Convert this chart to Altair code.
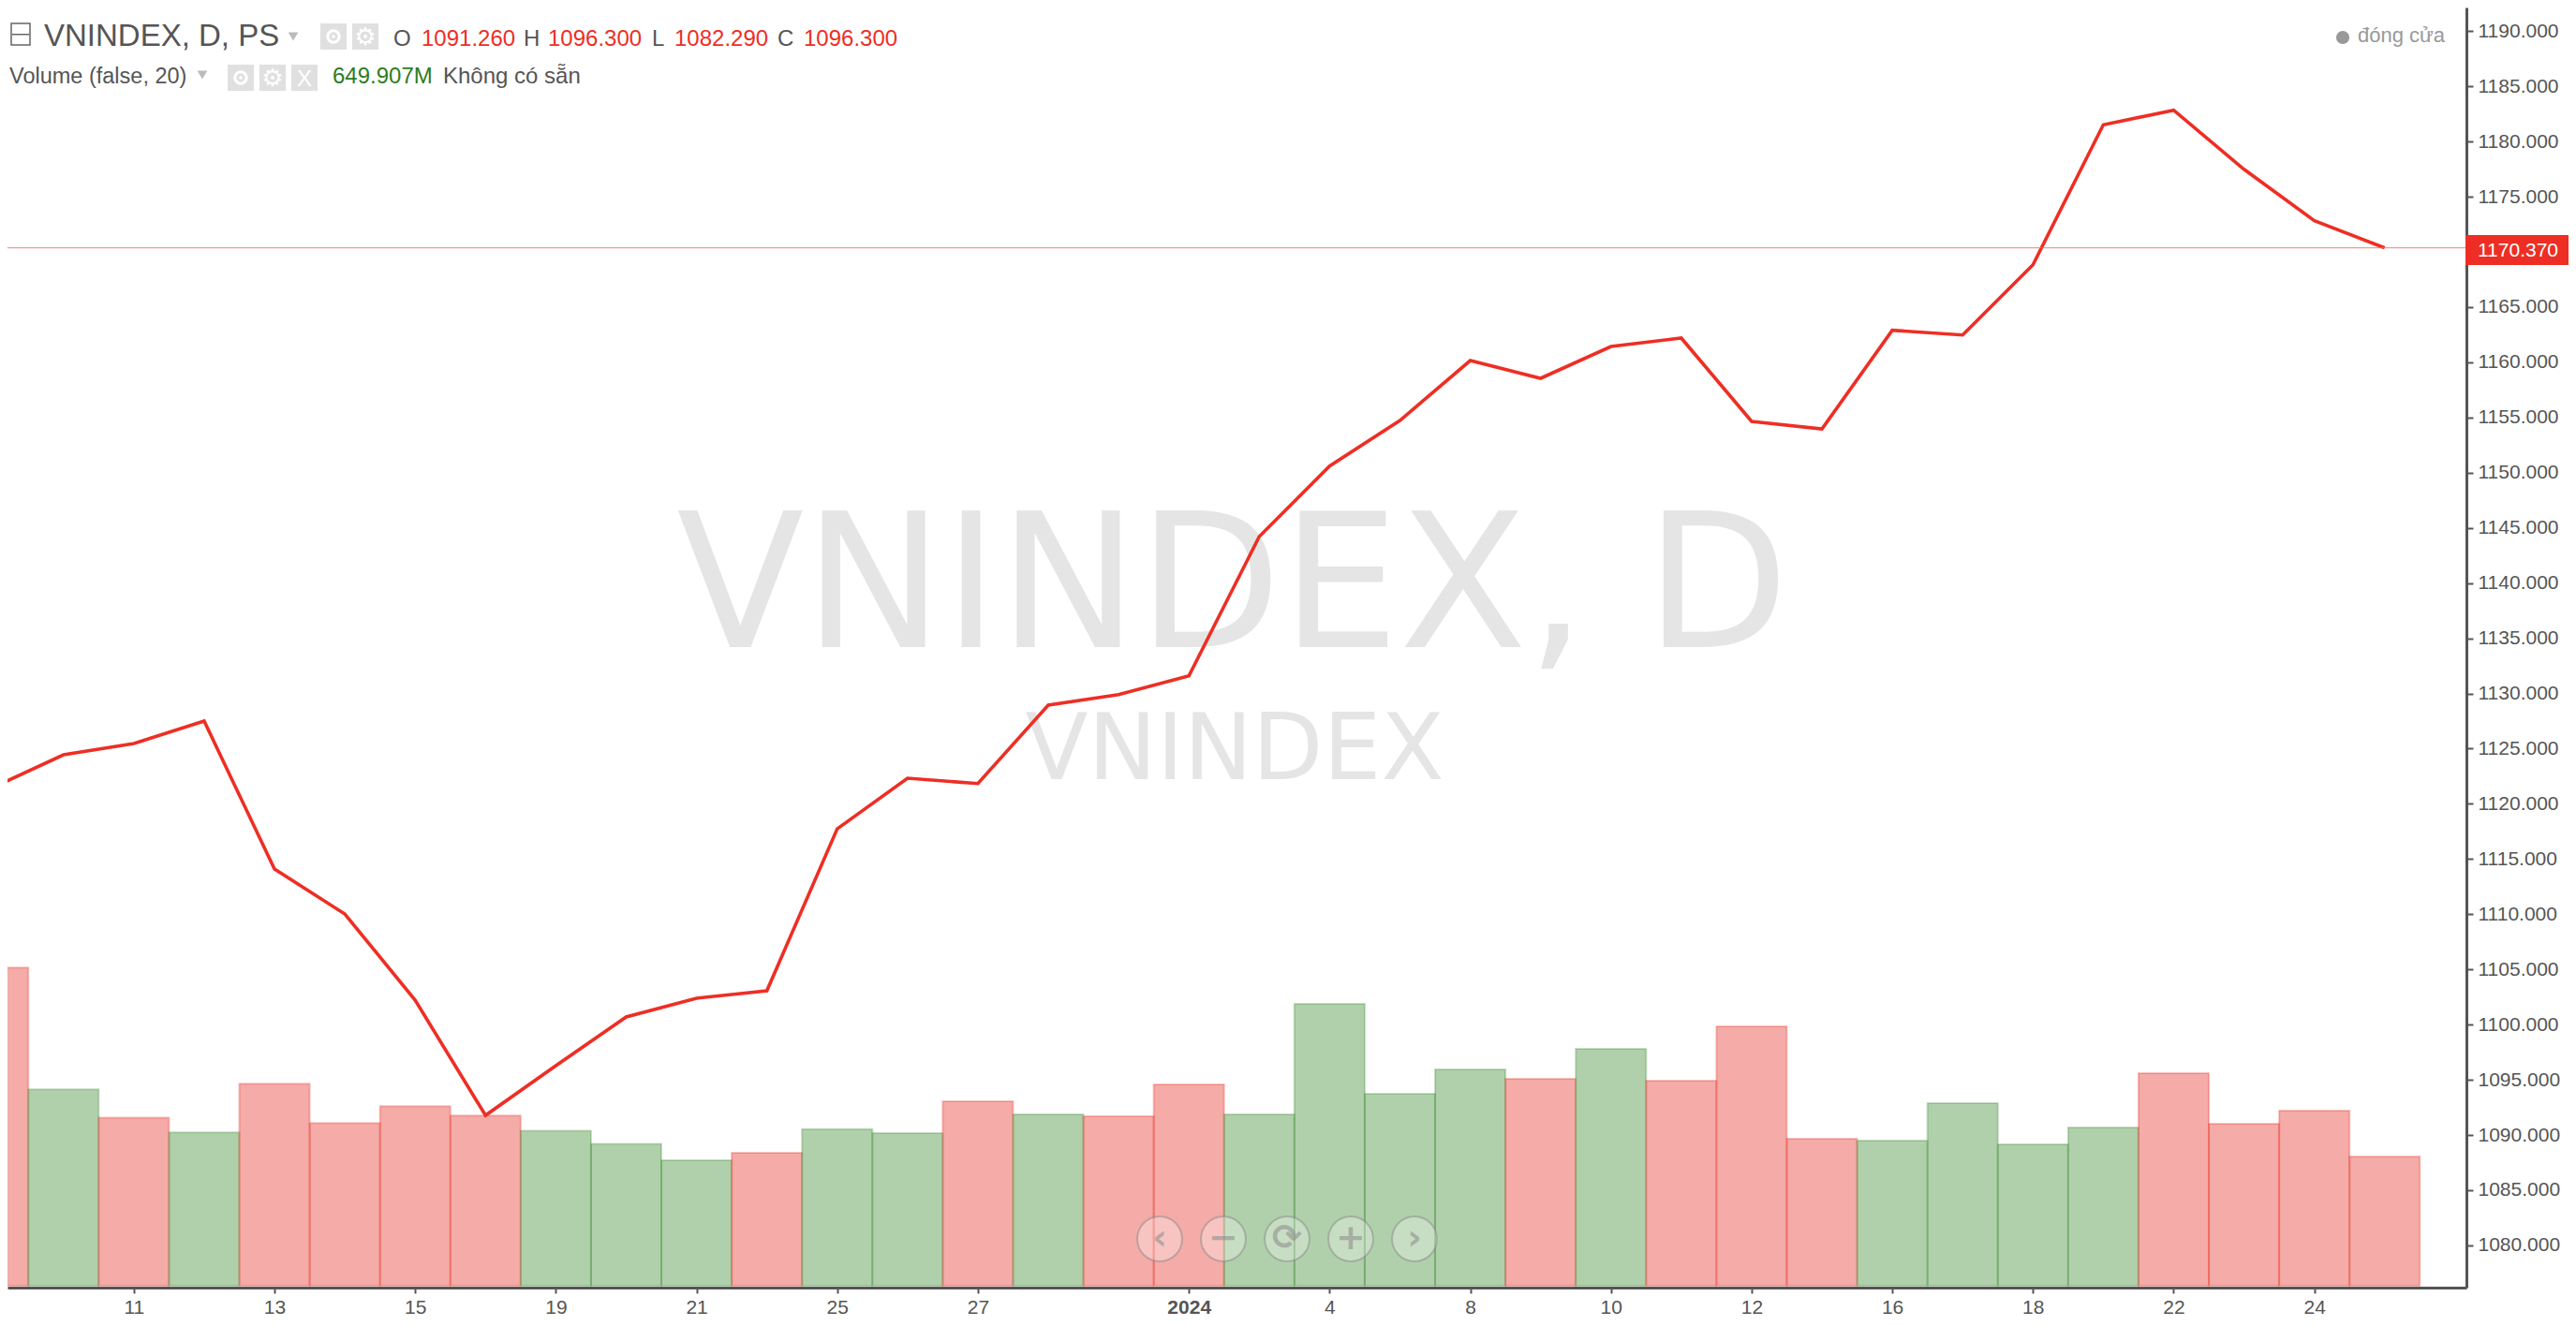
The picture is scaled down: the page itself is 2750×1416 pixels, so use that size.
import altair as alt
import pandas as pd

# ---- data ----
dates = ["12-07","12-08","12-11","12-12","12-13","12-14","12-15","12-18","12-19","12-20","12-21","12-22",
         "12-25","12-26","12-27","12-28","12-29","01-02","01-03","01-04","01-05","01-08","01-09","01-10",
         "01-11","01-12","01-15","01-16","01-17","01-18","01-19","01-22","01-23","01-24","01-25"]
close = [1121.48,1124.44,1125.46,1127.50,1114.09,1110.02,1102.22,1091.78,1096.28,1100.69,1102.39,1103.07,
         1117.74,1122.32,1121.84,1128.94,1129.90,1131.60,1144.21,1150.60,1154.73,1160.16,1158.55,1161.43,
         1162.20,1154.65,1153.97,1162.90,1162.48,1168.84,1181.52,1182.84,1177.49,1172.83,1170.37]
volume = [1600,988,846,771,1016,818,903,856,780,714,631,669,788,768,928,862,853,1013,862,1418,966,1088,
          1041,1192,1031,1305,739,730,918,711,796,1069,815,881,650]
side = ["r","g","r","g","r","r","r","r","g","g","g","r","g","g","r","g","r","r","g","g","g","g","r","g",
        "r","r","r","g","g","g","g","r","r","r","r"]
tick_idx = [2,4,6,8,10,12,14,17,19,21,23,25,27,29,31,33]
tick_labels = ["11","13","15","19","21","25","27","2024","4","8","10","12","16","18","22","24"]
y_ticks = list(range(1080, 1195, 5))
last_close = 1170.37

FONT = "Liberation Sans"
RED = "#ee2e24"
BAR_RED = "#e62e24"
BAR_GREEN = "#39892d"
GREY = "#555555"

df = pd.DataFrame({"date": dates, "close": close, "volume": volume, "side": side})
df["idx"] = range(len(df))
df["left"] = df["idx"] - 0.5
df["right"] = df["idx"] + 0.5
df["zero"] = 0

x_scale = alt.Scale(domain=[0.204, 35.162], nice=False, zero=False)
price_scale = alt.Scale(domain=[1076.174, 1192.146], nice=False, zero=False)
vol_scale = alt.Scale(domain=[-9.42, 6429], nice=False, zero=False)
one = alt.Data(values=[{"a": 1}])
OX, OY = 8, 8


def text(s, px, py, size=24, color=GREY, align="left", font=FONT, weight="normal"):
    return alt.Chart(one).mark_text(text=s, fontSize=size, color=color, align=align, baseline="alphabetic",
                                    font=font, fontWeight=weight).encode(
        x=alt.value(px - OX), y=alt.value(py - OY))


def box(x0, y0, x1, y1, fill="#e0e0e0", stroke=None, sw=0, opacity=1):
    kw = {"fill": fill, "opacity": opacity}
    if stroke:
        kw.update(stroke=stroke, strokeWidth=sw)
    return alt.Chart(one).mark_rect(**kw).encode(
        x=alt.value(x0 - OX), x2=alt.value(x1 - OX), y=alt.value(y0 - OY), y2=alt.value(y1 - OY))


def dot(px, py, r, fill=None, stroke=None, sw=0, shape="circle", fo=1, so=1):
    kw = dict(shape=shape, filled=False, opacity=1, fill=fill or "transparent", fillOpacity=fo,
              stroke=stroke or "transparent", strokeWidth=sw, strokeOpacity=so)
    return alt.Chart(one).mark_point(**kw).encode(
        x=alt.value(px - OX), y=alt.value(py - OY), size=alt.value(3.1416 * r * r))


x_axis = alt.Axis(values=tick_idx, title=None, grid=False, labelFontSize=21, labelColor=GREY, labelFont=FONT,
                  labelExpr="%s[indexof(%s, datum.value)]" % (tick_labels, tick_idx),
                  labelFontWeight={"condition": {"test": "datum.value == 17", "value": "bold"}, "value": "normal"},
                  labelOverlap=False, labelFlush=False, tickColor=GREY, tickSize=6, tickWidth=2,
                  domainColor=GREY, domainWidth=3, labelPadding=4)
y_axis = alt.Axis(orient="right", values=y_ticks, format=".3f", title=None, grid=False, labelFontSize=21,
                  labelColor=GREY, labelFont=FONT, tickColor=GREY, tickSize=7, tickWidth=2,
                  domainColor=GREY, domainWidth=3, labelPadding=5, labelOverlap=False, labelFlush=False)

wm_big = text("VNINDEX, D", 1316, 691, size=199, color="#e5e5e5", align="center", font="DejaVu Sans")
wm_small = text("VNINDEX", 1318, 832, size=98, color="#e5e5e5", align="center", font="DejaVu Sans")

base = alt.Chart(df)
bars = base.mark_bar(clip=True, strokeWidth=2, fillOpacity=0.4, strokeOpacity=0.28).encode(
    x=alt.X("left:Q", scale=x_scale, axis=x_axis),
    x2="right:Q",
    y=alt.Y("volume:Q", scale=vol_scale, axis=None),
    y2="zero:Q",
    fill=alt.Fill("side:N", scale=alt.Scale(domain=["r", "g"], range=[BAR_RED, BAR_GREEN]), legend=None),
    stroke=alt.Stroke("side:N", scale=alt.Scale(domain=["r", "g"], range=[BAR_RED, BAR_GREEN]), legend=None),
)
line = base.mark_line(clip=True, color=RED, strokeWidth=3.6, strokeJoin="miter").encode(
    x=alt.X("idx:Q", scale=x_scale, axis=x_axis),
    y=alt.Y("close:Q", scale=price_scale, axis=y_axis),
)
ref = alt.Chart(one).mark_rule(color="#ee6a62", strokeWidth=1, opacity=0.85).encode(
    y=alt.Y(datum=last_close, scale=price_scale, axis=None), x=alt.value(0), x2=alt.value(2632))

layers = [wm_big, wm_small, bars, line, ref]

# last-price tag
layers.append(box(2632, 251, 2742, 283, fill=RED))
layers.append(text("1170.370", 2645, 274, size=21, color="white"))

# top-left legend rows
layers.append(box(12, 25, 32, 48, fill="white", stroke="#666666", sw=1.5))
layers.append(box(13, 36, 31, 37.5, fill="#666666"))
layers.append(text("VNINDEX, D, PS", 47, 49, size=33))
layers.append(dot(313, 39, 6, fill="#bbbbbb", shape="triangle-down"))
for x0 in (342, 376):
    layers.append(box(x0, 25, x0 + 28, 53))
layers.append(dot(356, 39, 7, stroke="white", sw=3))
layers.append(dot(356, 39, 2, fill="white"))
layers.append(text("\u2699", 390, 48, size=26, color="white", align="center", font="DejaVu Sans"))
for s, xs, kind in [("O", 420, 0), ("1091.260", 450, 1), ("H", 559, 0), ("1096.300", 585, 1),
                    ("L", 696, 0), ("1082.290", 720, 1), ("C", 830, 0), ("1096.300", 858, 1)]:
    layers.append(text(s, xs, 49, size=24, color=RED if kind else GREY))

layers.append(text("Volume (false, 20)", 10, 89, size=23.5))
layers.append(dot(216, 80, 6, fill="#bbbbbb", shape="triangle-down"))
for x0 in (243, 277, 311):
    layers.append(box(x0, 69, x0 + 28, 97))
layers.append(dot(257, 83, 7, stroke="white", sw=3))
layers.append(dot(257, 83, 2, fill="white"))
layers.append(text("\u2699", 291, 92, size=26, color="white", align="center", font="DejaVu Sans"))
layers.append(text("X", 325, 92, size=24, color="white", align="center"))
layers.append(text("649.907M", 355, 89, size=24, color="#2e7d1e"))
layers.append(text("Không có sẵn", 473, 89, size=24))

# close legend
layers.append(dot(2501, 40, 8, fill="#999999"))
layers.append(text("đóng cửa", 2517, 45, size=22, color="#999999"))

# navigation buttons
for cx, glyph in [(1238, "\u2039"), (1306, "\u2212"), (1374, "\u27f3"), (1442, "+"), (1510, "\u203a")]:
    layers.append(dot(cx, 1323, 27, fill="white", stroke="#8a8a8a", sw=2, fo=0.3, so=0.5))
    layers.append(alt.Chart(one).mark_text(text=glyph, fontSize=38, color="#8a8a8a", opacity=0.55, align="center",
                                           baseline="middle", font="DejaVu Sans", fontWeight="bold").encode(
        x=alt.value(cx - OX), y=alt.value(1323 - OY)))

chart = alt.layer(*layers).resolve_scale(y="independent").properties(
    width=2625, height=1367,
    autosize=alt.AutoSizeParams(type="none"),
    padding={"left": 0, "top": 0, "right": 109, "bottom": 33},
).configure_view(stroke=None)

chart.save("out.html", embed_options={"renderer": "svg", "actions": False})
